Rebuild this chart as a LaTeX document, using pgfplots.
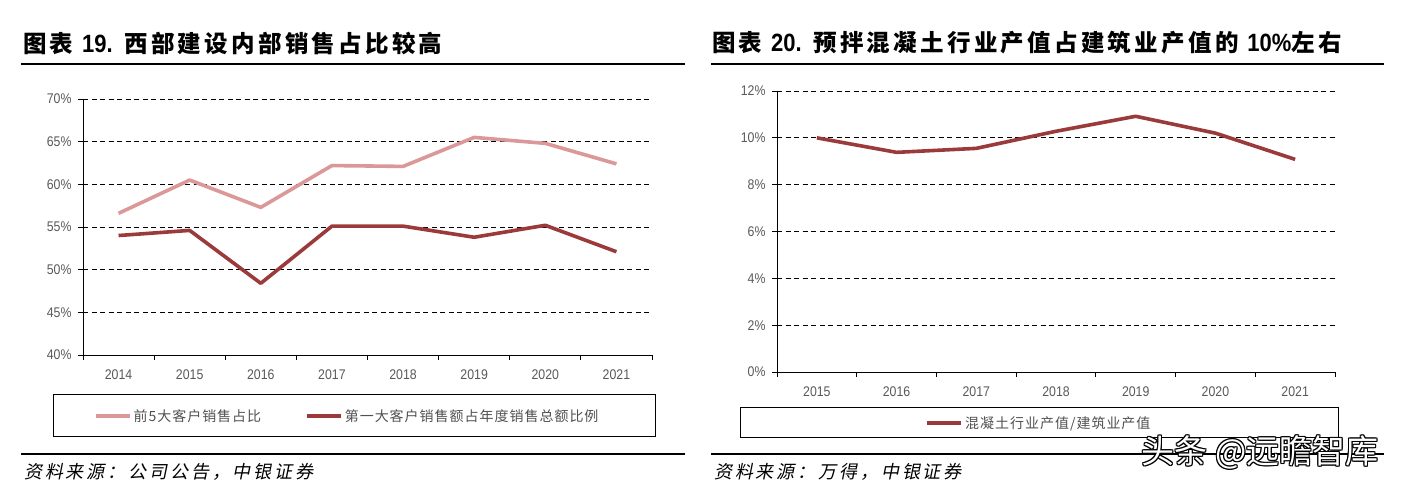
\documentclass[border=0pt]{standalone}
\usepackage{pgfplots}
\pgfplotsset{compat=1.18}
\usepackage{fontspec}
\setmainfont{Liberation Sans}
\newfontfamily\cjk{Noto Sans CJK SC}
\newfontfamily\titlecjk{Noto Sans CJK SC}[LetterSpace=14]
\newfontfamily\legcjk{Noto Sans CJK SC}[LetterSpace=7]
\newfontfamily\srccjk{Noto Sans CJK SC}[FakeSlant=0.2,LetterSpace=16]
\newfontfamily\narrow{Liberation Sans}[FakeStretch=0.88]
\definecolor{darkred}{RGB}{155,58,58}
\definecolor{lightred}{RGB}{219,152,152}
\definecolor{ticktxt}{RGB}{89,89,89}
\definecolor{legtxt}{RGB}{80,80,80}
\newcommand\titlefont{\fontsize{23.5}{25}\selectfont\titlecjk\bfseries}
\newcommand\numfont{\fontsize{25}{25}\selectfont\narrow\bfseries}
\newcommand\srcfont{\fontsize{18}{20}\selectfont\srccjk}
\newcommand\legfont{\fontsize{14}{16}\selectfont\legcjk}

\pgfplotsset{
  base/.style={
    scale only axis,
    clip=false,
    axis lines=left,
    axis line style={-, black, line width=0.9pt},
    ymajorgrids,
    grid style={black, line width=0.9pt, dash pattern=on 5pt off 3.5pt},
    tick align=outside,
    major tick length=5pt,
    tick style={black, line width=0.9pt},
    tick label style={font=\fontsize{14}{15}\selectfont\narrow, text=ticktxt},
    yticklabel style={xshift=-3pt},
    xticklabels={},
    extra x tick style={major tick length=0pt, tick label style={yshift=-11pt}},
    legend style={draw=none, fill=none, inner sep=0pt, anchor=west,
      legend columns=2, font=\legfont, text=legtxt,
      nodes={inner sep=2pt},
      /tikz/every even column/.append style={column sep=42pt}},
    legend cell align=left,
    legend image code/.code={\draw[##1] (0pt,0pt) -- (34pt,0pt);},
  },
}

\begin{document}
\begin{tikzpicture}[x=1pt,y=1pt]
\path[use as bounding box] (0,0) rectangle (1405,489);

% ---------- left panel ----------
\node[anchor=west, inner sep=0] at (23,446) {\titlefont 图表 {\numfont 19.} 西部建设内部销售占比较高};
\draw[line width=2.4pt] (21,425) -- (685,425);
\draw[line width=2.4pt] (21,35) -- (685,35);
\node[anchor=west, inner sep=0] at (24,17) {\srcfont 资料来源：公司公告，中银证券};
\draw[line width=1pt] (53,94) rectangle (655,52);

\begin{axis}[base,
  at={(83pt,134pt)}, anchor=south west,
  width=569pt, height=256pt,
  xmin=0.5, xmax=8.5, ymin=40, ymax=70,
  xtick={0.5,1.5,...,8.5},
  extra x ticks={1,2,3,4,5,6,7,8},
  extra x tick labels={2014,2015,2016,2017,2018,2019,2020,2021},
  ytick={40,45,50,55,60,65,70},
  yticklabels={40\%,45\%,50\%,55\%,60\%,65\%,70\%},
  legend style={at={(0.019,-0.238)}},
]
\addplot[lightred, line width=3.6pt, line join=round] coordinates {
  (1,56.6) (2,60.5) (3,57.3) (4,62.2) (5,62.1) (6,65.5) (7,64.8) (8,62.4)};
\addlegendentry{前5大客户销售占比}
\addplot[darkred, line width=3.6pt, line join=round] coordinates {
  (1,54.0) (2,54.6) (3,48.4) (4,55.1) (5,55.1) (6,53.8) (7,55.2) (8,52.1)};
\addlegendentry{第一大客户销售额占年度销售总额比例}
\end{axis}

% ---------- right panel ----------
\node[anchor=west, inner sep=0] at (712,446) {\titlefont 图表 {\numfont 20.} 预拌混凝土行业产值占建筑业产值的 {\numfont 10\%}左右};
\draw[line width=2.4pt] (711,425) -- (1384,425);
\draw[line width=2.4pt] (711,35) -- (1384,35);
\node[anchor=west, inner sep=0] at (714,17) {\srcfont 资料来源：万得，中银证券};
\draw[line width=1pt] (740,81) rectangle (1338,51);

\begin{axis}[base,
  at={(777pt,117pt)}, anchor=south west,
  width=558pt, height=281pt,
  xmin=0.5, xmax=7.5, ymin=0, ymax=12,
  xtick={0.5,1.5,...,7.5},
  extra x ticks={1,2,3,4,5,6,7},
  extra x tick labels={2015,2016,2017,2018,2019,2020,2021},
  ytick={0,2,4,6,8,10,12},
  yticklabels={0\%,2\%,4\%,6\%,8\%,10\%,12\%},
  legend style={at={(0.266,-0.181)}},
]
\addplot[darkred, line width=3.6pt, line join=round] coordinates {
  (1,10.0) (2,9.38) (3,9.55) (4,10.28) (5,10.92) (6,10.2) (7,9.08)};
\addlegendentry{混凝土行业产值/建筑业产值}
\end{axis}

% watermark
\foreach \dx/\dy in {1/0,-1/0,0/1,0/-1,1/1,-1/-1,1/-1,-1/1}{
  \node[text=black, inner sep=0] at (1260+\dx,37+\dy) {\fontsize{33}{34}\selectfont\cjk 头条 @远瞻智库};
}
\node[text=white, inner sep=0] at (1260,37) {\fontsize{33}{34}\selectfont\cjk 头条 @远瞻智库};
\end{tikzpicture}
\end{document}
